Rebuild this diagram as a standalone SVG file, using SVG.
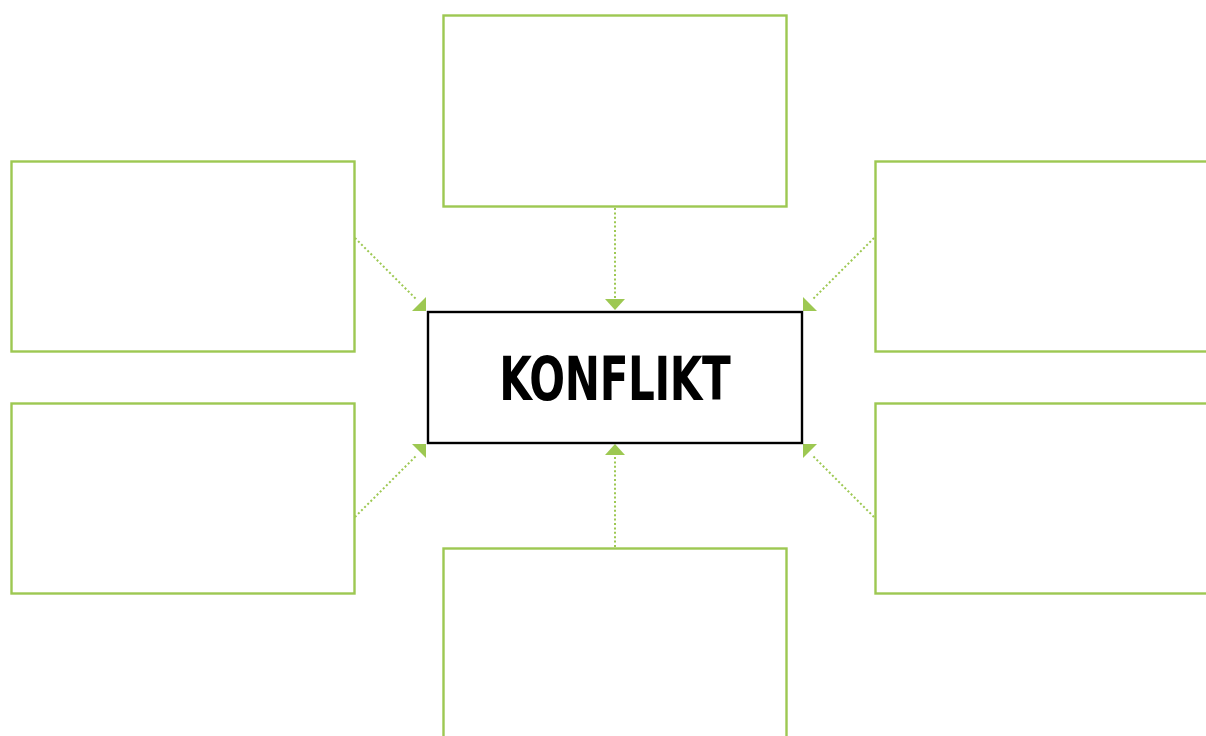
<svg xmlns="http://www.w3.org/2000/svg" width="1206" height="736" viewBox="0 0 1206 736">
<style>
.box{fill:none;stroke:#9dc852;stroke-width:2.4}
.con{fill:none;stroke:#9dc852;stroke-width:2;stroke-dasharray:2 2.4}
.head{fill:#9dc852}
.center{fill:#fff;stroke:#000;stroke-width:2.4}
.label{font-family:"Liberation Sans Narrow","DejaVu Sans Condensed","DejaVu Sans",sans-serif;font-weight:bold;font-size:60px;fill:#000}
</style>
<rect width="1206" height="736" fill="#fff"/>
<g id="connectors">
<line class="con" x1="615" y1="208" x2="615" y2="299"/>
<line class="con" x1="615" y1="547" x2="615" y2="456"/>
<line class="con" x1="355" y1="238" x2="417" y2="300"/>
<line class="con" x1="355" y1="517" x2="417" y2="455"/>
<line class="con" x1="874" y1="238" x2="812" y2="300"/>
<line class="con" x1="874" y1="517" x2="812" y2="455"/>
<polygon class="head" points="605,299 625,299 615,310"/>
<polygon class="head" points="605,455 625,455 615,444"/>
<polygon class="head" points="426,297 426,311 412,311"/>
<polygon class="head" points="426,458 426,444 412,444"/>
<polygon class="head" points="803,297 803,311 817,311"/>
<polygon class="head" points="803,458 803,444 817,444"/>
</g>
<g id="node-top"><rect class="box" x="443.5" y="15.5" width="343" height="191"/></g>
<g id="node-left-top"><rect class="box" x="11.5" y="161.5" width="343" height="190"/></g>
<g id="node-left-bottom"><rect class="box" x="11.5" y="403.5" width="343" height="190"/></g>
<g id="node-right-top"><rect class="box" x="875.5" y="161.5" width="343" height="190"/></g>
<g id="node-right-bottom"><rect class="box" x="875.5" y="403.5" width="343" height="190"/></g>
<g id="node-bottom"><rect class="box" x="443.5" y="548.5" width="343" height="200"/></g>
<g id="node-center">
<rect class="center" x="428" y="312" width="374" height="131"/>
<text class="label" transform="translate(615,400) scale(0.78,1)" x="0" y="0" text-anchor="middle" textLength="297" lengthAdjust="spacing">KONFLIKT</text>
</g>
</svg>
